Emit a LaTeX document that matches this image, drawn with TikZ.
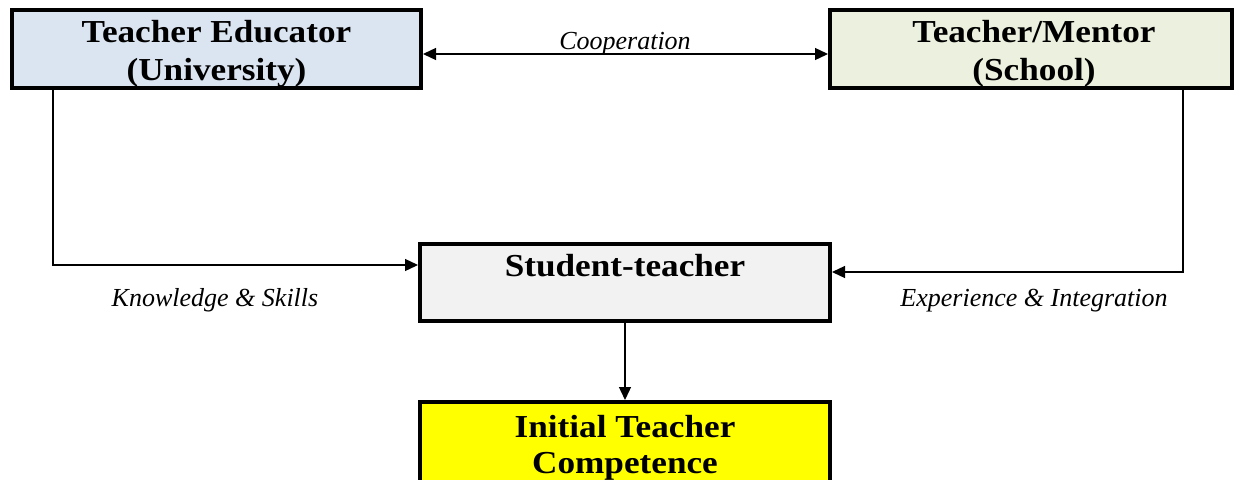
\documentclass[tikz,border=0pt]{standalone}
\usepackage{fontspec}
\setmainfont{Liberation Serif}
\newfontfamily\boxfont[FakeStretch=1.1]{Liberation Serif}
\usetikzlibrary{arrows.meta}
\definecolor{uniblue}{HTML}{DBE5F1}
\definecolor{schoolgreen}{HTML}{EBF1DE}
\definecolor{studgray}{HTML}{F2F2F2}
\definecolor{compyellow}{HTML}{FFFF00}
\tikzset{
  box/.style={draw=black, line width=4pt, inner sep=0pt},
  boxtext/.style={font=\boxfont\fontsize{32}{33}\selectfont\bfseries, inner sep=0pt, anchor=base},
  link/.style={line width=1.3pt, -{Triangle[length=13pt,width=12pt]}},
  lbl/.style={font=\fontsize{26}{30}\selectfont\itshape, inner sep=0pt, anchor=base}
}
\begin{document}
\begin{tikzpicture}[x=1pt,y=-1pt]
\useasboundingbox (0,0) rectangle (1236,479);
\begin{scope}
\clip (0,0) rectangle (1236,479);
% top row: the two partners
\node[box, fill=uniblue, minimum width=409pt, minimum height=78pt] (edu) at (216.5,49) {};
\node[boxtext] (edu1) at (216.5,42) {Teacher Educator};
\node[boxtext] (edu2) at (216.5,80) {(University)};
\node[box, fill=schoolgreen, minimum width=402pt, minimum height=78pt] (men) at (1031,49) {};
\node[boxtext] (men1) at (1034,42) {Teacher/Mentor};
\node[boxtext] (men2) at (1034,80) {(School)};
% middle: the student-teacher, label set near the top edge
\node[box, fill=studgray, minimum width=410pt, minimum height=77pt] (stu) at (625,282.5) {};
\node[boxtext] (stutxt) at (625,276) {Student-teacher};
% bottom: outcome box running off the lower edge
\node[box, fill=compyellow, minimum width=410pt, minimum height=110pt] (itc) at (625,457) {};
\node[boxtext] (itc1) at (625,437) {Initial Teacher};
\node[boxtext] (itc2) at (625,473) {Competence};
\end{scope}
% connectors
\coordinate (eduport) at (53,88);
\coordinate (menport) at (1183,88);
\draw[line width=1.3pt, {Triangle[length=13pt,width=12pt]}-{Triangle[length=13pt,width=12pt]}]
  (edu.east |- 0,54) -- (men.west |- 0,54);
\draw[link] (eduport) |- (stu.west |- 0,265);
\draw[link] (menport) |- (stu.east |- 0,272);
\draw[link] (stu.south) -- (itc.north);
% labels
\node[lbl] (coop) at (625,49) {Cooperation};
\node[lbl] (ks) at (215,306) {Knowledge \& Skills};
\node[lbl] (ei) at (1034,306) {Experience \& Integration};
\end{tikzpicture}
\end{document}
